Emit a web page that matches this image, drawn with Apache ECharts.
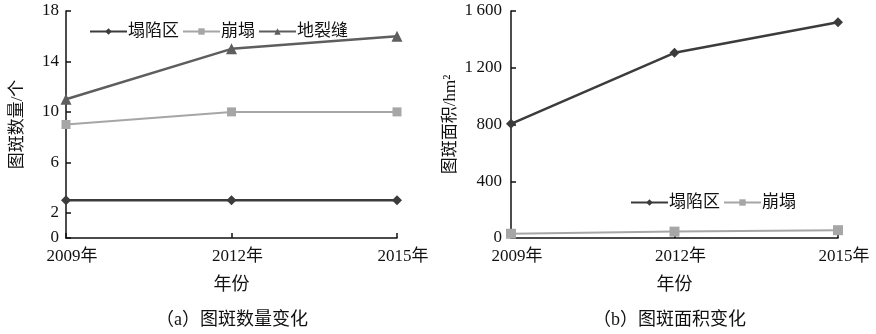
<!DOCTYPE html>
<html><head><meta charset="utf-8">
<script src="https://cdn.jsdelivr.net/npm/echarts@6/dist/echarts.min.js"></script>
<style>html,body{margin:0;padding:0;background:#fff}#c{width:876px;height:334px}</style>
</head><body><div id="c"></div>
<script>
const years = ['2009年', '2012年', '2015年'];
const countSubsidence = [3, 3, 3];
const countCollapse = [9, 10, 10];
const countFissure = [11, 15, 16];
const areaSubsidence = [805, 1305, 1520];
const areaCollapse = [30, 45, 55];
const countTicks = [0, 2, 6, 10, 14, 18];
const areaTicks = [0, 400, 800, 1200, 1600];

const FONT = "'Liberation Serif', 'Noto Sans CJK SC', serif";
const chart = echarts.init(document.getElementById('c'), null, {renderer: 'canvas'});
const axisLineStyle = {show: true, lineStyle: {color: '#111', width: 1.5}};
function xAxis(gi) {
  return {
    type: 'category', gridIndex: gi, data: years, boundaryGap: false,
    axisLine: axisLineStyle,
    axisTick: {show: true, inside: true, length: 5, lineStyle: {color: '#111', width: 1.5}},
    axisLabel: {color: '#111', fontSize: 17, fontFamily: FONT, margin: 10, padding: [0, 0, 0, 12]},
    name: '年份', nameLocation: 'middle', nameGap: 38,
    nameTextStyle: {color: '#111', fontSize: 18, fontFamily: FONT},
    splitLine: {show: false}
  };
}
const option = {
  animation: false,
  textStyle: {fontFamily: FONT},
  grid: [
    {left: 66, top: 11, width: 331, height: 227},
    {left: 511, top: 11, width: 327, height: 227}
  ],
  title: [
    {text: '（a）图斑数量变化', left: 151, top: 306,
     textStyle: {fontSize: 18, fontWeight: 'normal', color: '#111', fontFamily: FONT}},
    {text: '（b）图斑面积变化', left: 588, top: 306,
     textStyle: {fontSize: 18, fontWeight: 'normal', color: '#111', fontFamily: FONT}}
  ],
  legend: [
    {left: 84, top: 18, itemWidth: 37, itemHeight: 8, itemGap: 3,
     data: ['塌陷区', '崩塌', '地裂缝'],
     textStyle: {fontSize: 17, color: '#111', fontFamily: FONT, padding: [0, 0, 0, -4]}},
    {left: 625, top: 189, itemWidth: 37, itemHeight: 8, itemGap: 3,
     data: ['塌陷区', '崩塌'],
     textStyle: {fontSize: 17, color: '#111', fontFamily: FONT, padding: [0, 0, 0, -4]}}
  ],
  xAxis: [xAxis(0), xAxis(1)],
  yAxis: [
    {type: 'value', gridIndex: 0, min: 0, max: 18,
     axisLine: axisLineStyle,
     axisTick: {show: true, inside: true, length: 5, customValues: countTicks, lineStyle: {color: '#111', width: 1.5}},
     axisLabel: {color: '#111', fontSize: 17, fontFamily: FONT, margin: 7, customValues: countTicks},
     splitLine: {show: false},
     name: '图斑数量/个', nameLocation: 'middle', nameGap: 40, nameRotate: 90,
     nameTextStyle: {color: '#111', fontSize: 17, fontFamily: FONT}},
    {type: 'value', gridIndex: 1, min: 0, max: 1600, interval: 400,
     axisLine: axisLineStyle,
     axisTick: {show: true, inside: true, length: 5, customValues: areaTicks, lineStyle: {color: '#111', width: 1.5}},
     axisLabel: {color: '#111', fontSize: 17, fontFamily: FONT, margin: 9, customValues: areaTicks,
       formatter: v => v >= 1000 ? String(v).replace(/^(\d)(\d{3})$/, '$1\u2009$2') : String(v)},
     splitLine: {show: false},
     name: '图斑面积/hm²', nameLocation: 'middle', nameGap: 52, nameRotate: 90,
     nameTextStyle: {color: '#111', fontSize: 17, fontFamily: FONT}}
  ],
  series: [
    {name: '塌陷区', type: 'line', xAxisIndex: 0, yAxisIndex: 0, data: countSubsidence,
     symbol: 'diamond', symbolSize: 10, lineStyle: {color: '#3c3c3c', width: 2.5},
     itemStyle: {color: '#3c3c3c'}, z: 4},
    {name: '崩塌', type: 'line', xAxisIndex: 0, yAxisIndex: 0, data: countCollapse,
     symbol: 'rect', symbolSize: 9, lineStyle: {color: '#a6a6a6', width: 2},
     itemStyle: {color: '#a6a6a6'}, z: 3},
    {name: '地裂缝', type: 'line', xAxisIndex: 0, yAxisIndex: 0, data: countFissure,
     symbol: 'triangle', symbolSize: 11, lineStyle: {color: '#5e5e5e', width: 2.5},
     itemStyle: {color: '#5e5e5e'}, z: 3},
    {name: '塌陷区', type: 'line', xAxisIndex: 1, yAxisIndex: 1, data: areaSubsidence,
     symbol: 'diamond', symbolSize: 10, lineStyle: {color: '#3c3c3c', width: 2.5},
     itemStyle: {color: '#3c3c3c'}, z: 4},
    {name: '崩塌', type: 'line', xAxisIndex: 1, yAxisIndex: 1, data: areaCollapse,
     symbol: 'rect', symbolSize: 10, lineStyle: {color: '#a6a6a6', width: 2},
     itemStyle: {color: '#a6a6a6'}, z: 3}
  ]
};
chart.setOption(option);
</script></body></html>
